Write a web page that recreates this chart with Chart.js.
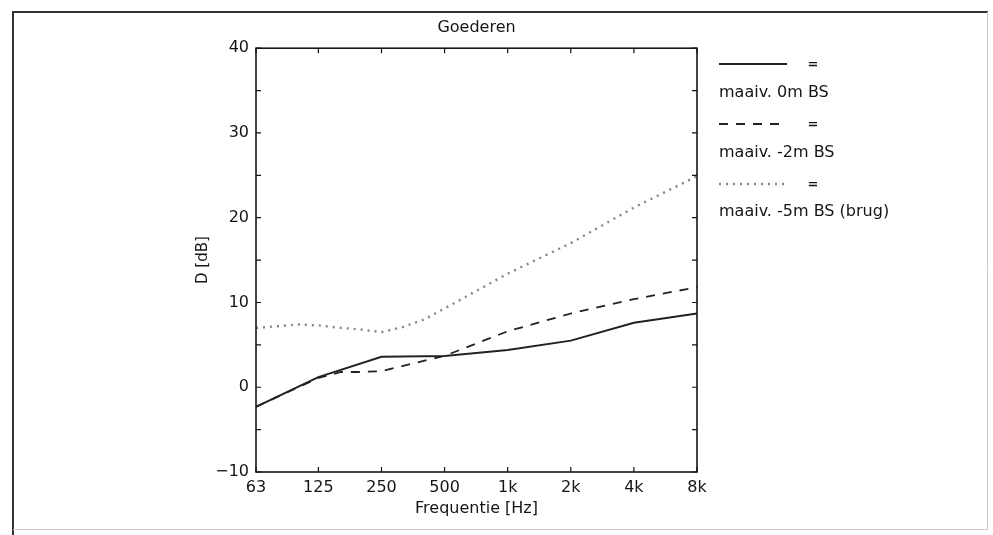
<!DOCTYPE html>
<html>
<head>
<meta charset="utf-8">
<script src="https://cdn.jsdelivr.net/npm/chart.js@4.4.1/dist/chart.umd.min.js"></script>
<style>
  html, body { margin: 0; padding: 0; background: #fff; }
  #wrap { width: 993px; height: 535px; position: relative; }
</style>
</head>
<body>
<div id="wrap"><canvas id="goederenChart"></canvas></div>
<script>
// octave band axis
const octaveFreqs = [63, 125, 250, 500, 1000, 2000, 4000, 8000];
const tickLabels = ['63', '125', '250', '500', '1k', '2k', '4k', '8k'];

// band centres the curves are given on (null = no point there)
const bandFreqs = [63, 80, 100, 125, 160, 200, 250, 315, 400, 500, 1000, 2000, 4000, 8000];

const maaiv0m = [-2.3, null, null, 1.2, null, null, 3.6, null, null, 3.7, 4.4, 5.5, 7.6, 8.7];
const maaiv2m = [-2.3, null, null, 1.1, 1.8, 1.8, 1.9, null, null, 3.7, 6.6, 8.7, 10.4, 11.8];
const maaiv5m = [7.0, 7.2, 7.4, 7.3, 7.0, 6.8, 6.5, 7.1, 8.0, 9.3, 13.4, 17.0, 21.2, 24.9];

const seriesLabels = ['maaiv. 0m BS', 'maaiv. -2m BS', 'maaiv. -5m BS (brug)'];

const FONT = 'DejaVu Sans';
const INK = '#151515';

function toPoints(values) {
    return bandFreqs.map((f, i) => ({ x: f, y: values[i] }));
}

// box, inward ticks, legend and page frame
const decorations = {
    id: 'decorations',
    beforeDraw(chart) {
        const ctx = chart.ctx;
        ctx.save();
        ctx.fillStyle = '#fff';
        ctx.fillRect(0, 0, chart.width, chart.height);
        ctx.restore();
    },
    afterDraw(chart) {
        const ctx = chart.ctx;
        const a = chart.chartArea;
        const x = chart.scales.x;
        const y = chart.scales.y;
        ctx.save();

        // plot box
        ctx.strokeStyle = INK;
        ctx.lineWidth = 1.6;
        ctx.strokeRect(a.left, a.top, a.right - a.left, a.bottom - a.top);

        // inward tick marks
        ctx.lineWidth = 1.2;
        const tl = 5;
        y.ticks.forEach(t => {
            const py = y.getPixelForValue(t.value);
            ctx.beginPath();
            ctx.moveTo(a.left, py); ctx.lineTo(a.left + tl, py);
            ctx.moveTo(a.right, py); ctx.lineTo(a.right - tl, py);
            ctx.stroke();
        });
        x.ticks.forEach(t => {
            const px = x.getPixelForValue(t.value);
            ctx.beginPath();
            ctx.moveTo(px, a.bottom); ctx.lineTo(px, a.bottom - tl);
            ctx.moveTo(px, a.top); ctx.lineTo(px, a.top + tl);
            ctx.stroke();
        });

        // legend: sample line + "=" then label underneath
        const lx = a.right + 22;
        chart.data.datasets.forEach((ds, i) => {
            const ly = 64 + i * 60;
            const ty = 93 + i * 59.5;
            ctx.strokeStyle = ds.borderColor;
            ctx.lineWidth = ds.borderWidth;
            ctx.setLineDash(ds.borderDash || []);
            ctx.beginPath();
            ctx.moveTo(lx, ly);
            ctx.lineTo(lx + 68, ly);
            ctx.stroke();
            ctx.setLineDash([]);

            ctx.fillStyle = INK;
            ctx.textBaseline = 'middle';
            ctx.textAlign = 'center';
            ctx.font = 'bold 13px ' + FONT;
            ctx.fillText('=', lx + 94, ly + 1);
            ctx.textAlign = 'left';
            ctx.font = '16px ' + FONT;
            ctx.fillText(ds.label, lx, ty);
        });

        // page frame
        ctx.lineWidth = 2;
        ctx.strokeStyle = '#333';
        ctx.beginPath();
        ctx.moveTo(13, 535); ctx.lineTo(13, 12); ctx.lineTo(988, 12);
        ctx.stroke();
        ctx.lineWidth = 1;
        ctx.strokeStyle = '#c8c8c8';
        ctx.beginPath();
        ctx.moveTo(987.5, 12); ctx.lineTo(987.5, 529.5); ctx.lineTo(13, 529.5);
        ctx.stroke();

        ctx.restore();
    }
};

const ctx = document.getElementById('goederenChart').getContext('2d');
const goederenChart = new Chart(ctx, {
    type: 'line',
    data: {
        datasets: [{
            label: seriesLabels[0],
            data: toPoints(maaiv0m),
            borderColor: '#222',
            borderWidth: 2,
            pointRadius: 0,
            spanGaps: true,
            tension: 0
        }, {
            label: seriesLabels[1],
            data: toPoints(maaiv2m),
            borderColor: '#222',
            borderWidth: 1.8,
            borderDash: [9, 8],
            pointRadius: 0,
            spanGaps: true,
            tension: 0
        }, {
            label: seriesLabels[2],
            data: toPoints(maaiv5m),
            borderColor: '#858585',
            borderWidth: 2.4,
            borderDash: [2, 5],
            pointRadius: 0,
            spanGaps: true,
            tension: 0
        }]
    },
    options: {
        responsive: true,
        maintainAspectRatio: false,
        animation: false,
        layout: {
            padding: { left: 190, right: 296, top: 0, bottom: 13 }
        },
        plugins: {
            legend: { display: false },
            tooltip: { enabled: false },
            title: {
                display: true,
                text: 'Goederen',
                fullSize: false,
                color: INK,
                font: { family: FONT, size: 16, weight: 'normal' },
                padding: { top: 18, bottom: 11 }
            }
        },
        scales: {
            x: {
                type: 'logarithmic',
                min: 63,
                max: 8000,
                grid: { display: false, drawTicks: false },
                border: { display: false },
                afterBuildTicks: scale => {
                    scale.ticks = octaveFreqs.map(v => ({ value: v }));
                },
                afterFit: scale => { scale.height = 50; },
                ticks: {
                    autoSkip: false,
                    maxRotation: 0,
                    padding: 6,
                    color: INK,
                    font: { family: FONT, size: 16 },
                    callback: (value, index) => tickLabels[index]
                },
                title: {
                    display: true,
                    text: 'Frequentie [Hz]',
                    color: INK,
                    font: { family: FONT, size: 16 }
                }
            },
            y: {
                min: -10,
                max: 40,
                grid: { display: false, drawTicks: false },
                border: { display: false },
                afterFit: scale => { scale.width = 66; },
                ticks: {
                    stepSize: 5,
                    padding: 7,
                    color: INK,
                    font: { family: FONT, size: 16 },
                    callback: v => v % 10 === 0 ? (v < 0 ? '\u2212' + Math.abs(v) : String(v)) : ''
                },
                title: {
                    display: true,
                    text: 'D [dB]',
                    color: INK,
                    font: { family: FONT, size: 15 }
                }
            }
        }
    },
    plugins: [decorations]
});
</script>
</body>
</html>
